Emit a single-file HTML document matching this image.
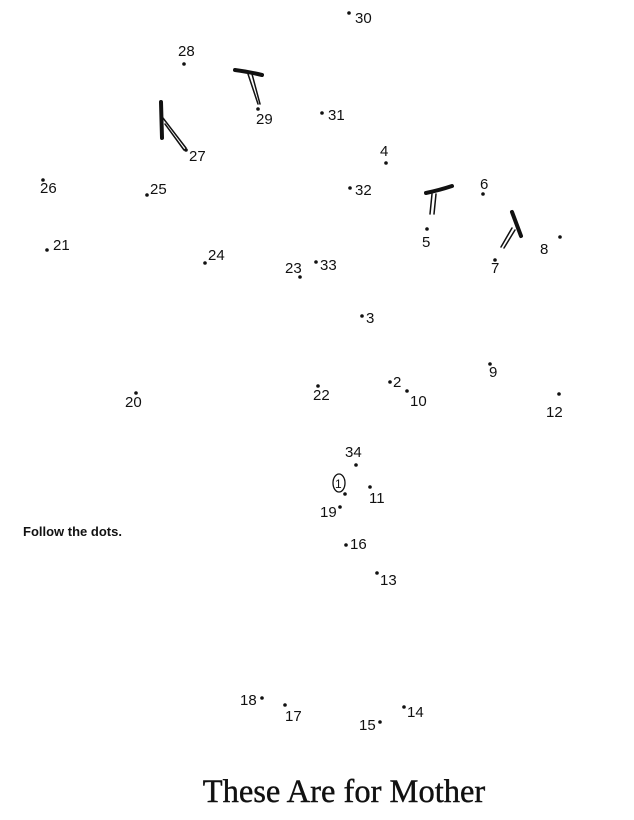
<!DOCTYPE html>
<html><head><meta charset="utf-8"><style>
html,body{margin:0;padding:0;background:#fff;}
svg{display:block}
.n{font-family:"Liberation Sans",sans-serif;font-size:15px;fill:#111;}
</style></head><body>
<svg width="634" height="820" viewBox="0 0 634 820" xmlns="http://www.w3.org/2000/svg">
<g fill="#111">
<circle cx="349" cy="13" r="1.8"/>
<circle cx="184" cy="64" r="1.8"/>
<circle cx="258" cy="109" r="1.8"/>
<circle cx="322" cy="113" r="1.8"/>
<circle cx="186" cy="150" r="1.8"/>
<circle cx="386" cy="163" r="1.8"/>
<circle cx="43" cy="180" r="1.8"/>
<circle cx="147" cy="195" r="1.8"/>
<circle cx="350" cy="188" r="1.8"/>
<circle cx="483" cy="194" r="1.8"/>
<circle cx="427" cy="229" r="1.8"/>
<circle cx="495" cy="260" r="1.8"/>
<circle cx="560" cy="237" r="1.8"/>
<circle cx="47" cy="250" r="1.8"/>
<circle cx="205" cy="263" r="1.8"/>
<circle cx="300" cy="277" r="1.8"/>
<circle cx="316" cy="262" r="1.8"/>
<circle cx="362" cy="316" r="1.8"/>
<circle cx="490" cy="364" r="1.8"/>
<circle cx="390" cy="382" r="1.8"/>
<circle cx="407" cy="391" r="1.8"/>
<circle cx="318" cy="386" r="1.8"/>
<circle cx="136" cy="393" r="1.8"/>
<circle cx="559" cy="394" r="1.8"/>
<circle cx="356" cy="465" r="1.8"/>
<circle cx="345" cy="494" r="1.8"/>
<circle cx="370" cy="487" r="1.8"/>
<circle cx="340" cy="507" r="1.8"/>
<circle cx="346" cy="545" r="1.8"/>
<circle cx="377" cy="573" r="1.8"/>
<circle cx="262" cy="698" r="1.8"/>
<circle cx="285" cy="705" r="1.8"/>
<circle cx="380" cy="722" r="1.8"/>
<circle cx="404" cy="707" r="1.8"/>
</g>
<g stroke="#111" fill="none" stroke-linecap="round">
<path d="M235 70 Q250 72 262 75" stroke-width="4"/>
<path d="M248 74 L258 104 M252 74 L260 104" stroke-width="1.5"/>
<path d="M161 102 L162 138" stroke-width="4"/>
<path d="M163 118 L186 148 M165 124 L184 150" stroke-width="1.5"/>
<path d="M426 193 Q440 190 452 186" stroke-width="4"/>
<path d="M432 194 L430 214 M436 194 L434 214" stroke-width="1.5"/>
<path d="M512 212 L521 236" stroke-width="4"/>
<path d="M512 228 L501 247 M515 230 L504 248" stroke-width="1.5"/>
</g>
<ellipse cx="339" cy="483" rx="6" ry="9" fill="none" stroke="#111" stroke-width="1.3"/>
<g class="n">
<text x="355" y="23">30</text>
<text x="178" y="56">28</text>
<text x="256" y="124">29</text>
<text x="328" y="120">31</text>
<text x="189" y="161">27</text>
<text x="380" y="156">4</text>
<text x="40" y="193">26</text>
<text x="150" y="194">25</text>
<text x="355" y="195">32</text>
<text x="480" y="189">6</text>
<text x="422" y="247">5</text>
<text x="491" y="273">7</text>
<text x="540" y="254">8</text>
<text x="53" y="250">21</text>
<text x="208" y="260">24</text>
<text x="285" y="273">23</text>
<text x="320" y="270">33</text>
<text x="366" y="323">3</text>
<text x="489" y="377">9</text>
<text x="393" y="387">2</text>
<text x="410" y="406">10</text>
<text x="313" y="400">22</text>
<text x="125" y="407">20</text>
<text x="546" y="417">12</text>
<text x="345" y="457">34</text>
<text x="335" y="488" style="font-size:12px">1</text>
<text x="369" y="503">11</text>
<text x="320" y="517">19</text>
<text x="350" y="549">16</text>
<text x="380" y="585">13</text>
<text x="240" y="705">18</text>
<text x="285" y="721">17</text>
<text x="359" y="730">15</text>
<text x="407" y="717">14</text>
</g>
<text x="23" y="536" style="font-family:'Liberation Sans',sans-serif;font-size:13px;font-weight:bold" fill="#111">Follow the dots.</text>
<text x="344" y="802" text-anchor="middle" style="font-family:'Liberation Serif',serif;font-size:32.5px" fill="#111" stroke="#111" stroke-width="0.4">These Are for Mother</text>
</svg>
</body></html>
